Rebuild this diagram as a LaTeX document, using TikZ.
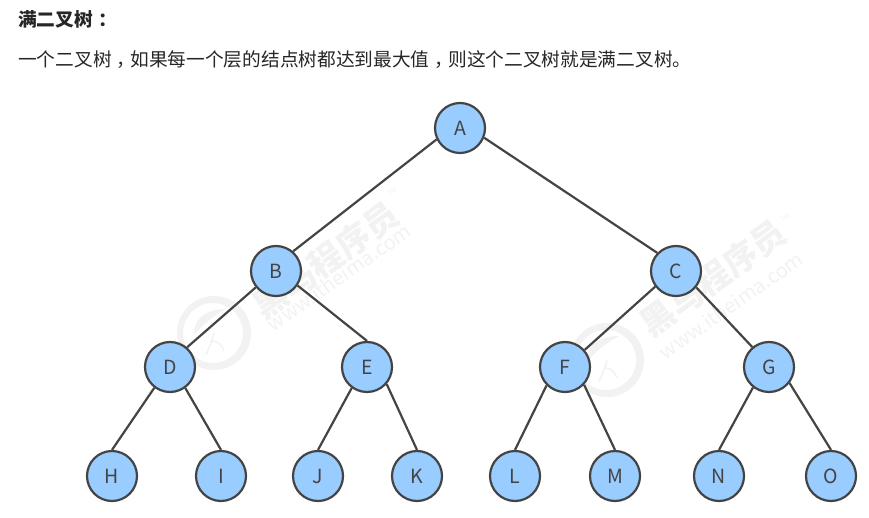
\documentclass[tikz,border=0pt]{standalone}
\usepackage{fontspec}
\setmainfont{Noto Sans CJK SC}
\usetikzlibrary{positioning}
\definecolor{nodeblue}{HTML}{99CCFF}
\definecolor{edgegray}{HTML}{444444}
\definecolor{markgray}{HTML}{F2F2F2}
\newcommand{\cnpunct}[1]{\kern.28em#1\kern-.28em}
\tikzset{
  treenode/.style={circle,draw=edgegray,fill=nodeblue,line width=2.2pt,minimum size=50pt,inner sep=0pt,font=\fontsize{19.5pt}{19.5pt}\selectfont,text=edgegray},
  edgeline/.style={draw=edgegray,line width=2.2pt},
  headtxt/.style={anchor=west,inner sep=0pt,font=\fontsize{18.7pt}{18.7pt}\selectfont,text=black!85},
  markcn/.style={text=markgray,rotate=36,font=\bfseries\fontsize{34pt}{34pt}\selectfont},
  markurl/.style={text=markgray,rotate=35,font=\fontsize{20pt}{20pt}\selectfont},
  marktm/.style={text=markgray,rotate=36,font=\fontsize{7pt}{7pt}\selectfont}
}
\begin{document}
\begin{tikzpicture}[x=1pt,y=-1pt]
  \useasboundingbox (0,0) rectangle (869,518);
  \node[headtxt,font=\bfseries\fontsize{18.7pt}{18.7pt}\selectfont] (title) at (18,19) {满二叉树\cnpunct{：}};
  \node[headtxt] (intro) at (18,60) {一个二叉树\cnpunct{，}如果每一个层的结点树都达到最大值\cnpunct{，}则这个二叉树就是满二叉树。};

  % watermark
  \node[markcn] (cn1) at (326,260) {黑马程序员};
  \node[markurl] (url1) at (339,277) {www.itheima.com};
  \node[marktm] (tm1) at (392,192) {TM};
  \node[markcn] (cn2) at (713,278) {黑马程序员};
  \node[markurl] (url2) at (731,305) {www.itheima.com};
  \node[marktm] (tm2) at (785,218) {TM};
  \foreach \x/\y in {214/333, 607/360} {
    \fill[markgray,even odd rule] (\x,\y) circle (37) (\x-1,\y) circle (30);
    \fill[markgray] (\x-20,\y+2) .. controls (\x-20,\y-18) and (\x-4,\y-24) .. (\x+12,\y-24)
      .. controls (\x-2,\y-16) and (\x-12,\y-8) .. (\x-20,\y+2);
    \draw[markgray,line width=1.5pt] (\x-8,\y+22) .. controls (\x-4,\y+12) and (\x-2,\y+8) .. (\x,\y)
      (\x-2,\y+8) .. controls (\x+4,\y+8) and (\x+8,\y+12) .. (\x+10,\y+18);
  }

  \node[treenode] (A) at (460,128) {A};
  \node[treenode] (B) at (276,271) {B};
  \node[treenode] (C) at (676,271) {C};
  \node[treenode] (D) at (170,367) {D};
  \node[treenode] (E) at (367,367) {E};
  \node[treenode] (F) at (565,367) {F};
  \node[treenode] (G) at (769,367) {G};
  \node[treenode] (H) at (112,476) {H};
  \node[treenode] (I) at (221,476) {I};
  \node[treenode] (J) at (318,476) {J};
  \node[treenode] (K) at (417,476) {K};
  \node[treenode] (L) at (515,476) {L};
  \node[treenode] (M) at (615,476) {M};
  \node[treenode] (N) at (719,476) {N};
  \node[treenode] (O) at (831,476) {O};

  \foreach \a/\p/\b/\q in {A/206/B/49, A/338/C/136, B/219/D/49, B/326/E/90, C/217/F/41, C/321/G/130,
      D/233/H/90, D/306/I/90, E/234/J/90, E/319/K/90, F/225/L/90, F/317/M/90, G/232/N/90, G/322/O/90}
    \draw[edgeline] (\a.\p)--(\b.\q);
\end{tikzpicture}
\end{document}
